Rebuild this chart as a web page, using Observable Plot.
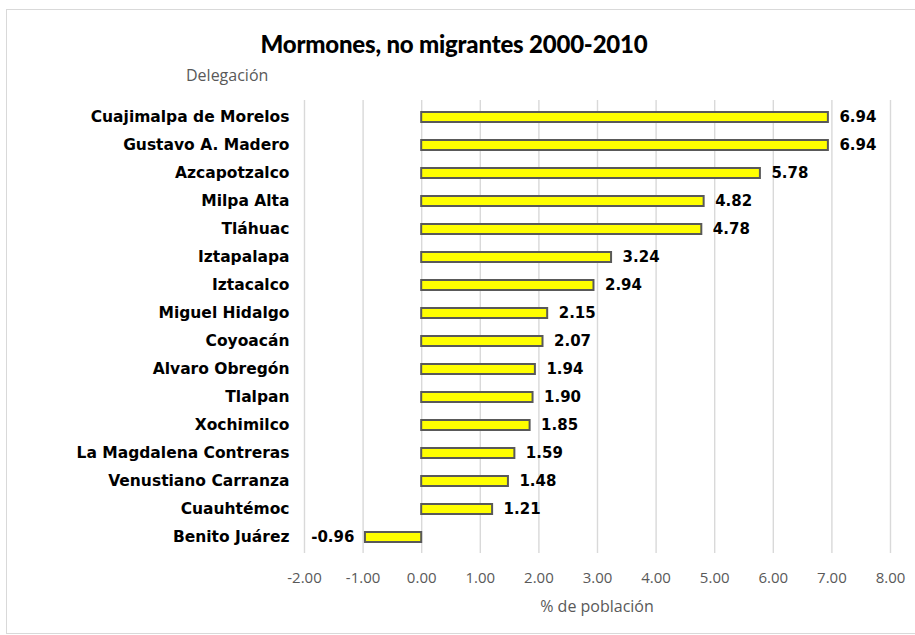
<!DOCTYPE html>
<html><head><meta charset="utf-8">
<script src="https://cdn.jsdelivr.net/npm/d3@7"></script>
<script src="https://cdn.jsdelivr.net/npm/@observablehq/plot@0.6"></script>
<style>
body{margin:0;background:#fff}
#wrap{position:relative;width:915px;height:635px;overflow:hidden;background:#fff}
#frame{position:absolute;left:6px;top:9px;width:915px;height:625px;border:1.5px solid #d9d9d9;box-sizing:border-box}
#title{position:absolute;top:29px;left:0;width:908px;text-align:center;font-family:Lato,"Open Sans",sans-serif;font-weight:900;font-size:24px;color:#000;letter-spacing:-0.2px}
#ylab{position:absolute;top:64px;left:186px;font-family:"Open Sans",sans-serif;font-size:16px;color:#595959}
#xlab{position:absolute;top:595px;left:304px;width:586px;text-align:center;font-family:"Open Sans",sans-serif;font-size:16px;color:#595959}
#chart{position:absolute;left:0;top:0}
#chart svg{overflow:visible}
g[aria-label="x-axis tick label"] text{font-family:"Open Sans",sans-serif;font-size:15px;fill:#595959}
g[aria-label="y-axis tick label"] text{font-family:"DejaVu Sans",sans-serif;font-weight:700;font-size:15.5px;fill:#000}
g.vals text{font-family:"DejaVu Sans",sans-serif;font-weight:700;font-size:15px;fill:#000}
</style>
</head><body>
<div id="wrap">
<div id="frame"></div>
<div id="chart"></div>
<div id="title">Mormones, no migrantes 2000-2010</div>
<div id="ylab">Delegación</div>
<div id="xlab">% de población</div>
</div>
<script>
const delegaciones = ["Cuajimalpa de Morelos","Gustavo A. Madero","Azcapotzalco","Milpa Alta","Tláhuac","Iztapalapa","Iztacalco","Miguel Hidalgo","Coyoacán","Alvaro Obregón","Tlalpan","Xochimilco","La Magdalena Contreras","Venustiano Carranza","Cuauhtémoc","Benito Juárez"];
const valores = [6.94, 6.94, 5.78, 4.82, 4.78, 3.24, 2.94, 2.15, 2.07, 1.94, 1.90, 1.85, 1.59, 1.48, 1.21, -0.96];
const xTicks = [-2, -1, 0, 1, 2, 3, 4, 5, 6, 7, 8];

const data = delegaciones.map((d, i) => ({d, v: valores[i]}));
const fmt = v => v.toFixed(2);

const chart = Plot.plot({
  width: 915,
  height: 635,
  marginTop: 100,
  marginBottom: 82,
  marginLeft: 304,
  marginRight: 25,
  style: {background: "transparent"},
  x: {domain: [-2, 8], ticks: xTicks, label: null},
  y: {domain: delegaciones, paddingInner: 0.646, paddingOuter: 0.323, label: null},
  marks: [
    Plot.gridX(xTicks, {stroke: "#d9d9d9", strokeOpacity: 1, strokeWidth: 1.4}),
    Plot.barX(data, {x: "v", y: "d", fill: "#ffff00", stroke: "#595959", strokeWidth: 2}),
    Plot.text(data.filter(d => d.v >= 0), {x: "v", y: "d", text: d => fmt(d.v), textAnchor: "start", dx: 11, className: "vals"}),
    Plot.text(data.filter(d => d.v < 0), {x: "v", y: "d", text: d => fmt(d.v), textAnchor: "end", dx: -11, className: "vals"}),
    Plot.axisX(xTicks, {tickSize: 0, tickPadding: 19, tickFormat: fmt, label: null}),
    Plot.axisY({tickSize: 0, tickPadding: 15, label: null})
  ]
});
document.getElementById("chart").appendChild(chart);
</script>
</body></html>
